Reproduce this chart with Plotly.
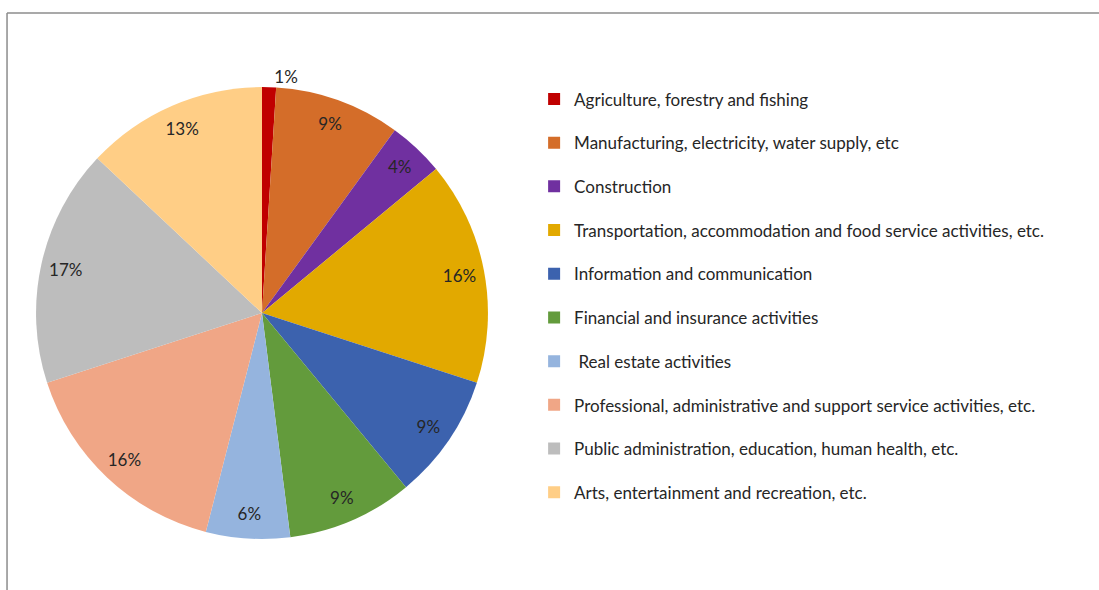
import plotly.graph_objects as go

# Share of enterprises by economic activity (%)
sectors = [
    "Agriculture, forestry and fishing",
    "Manufacturing, electricity, water supply, etc",
    "Construction",
    "Transportation, accommodation and food service activities, etc.",
    "Information and communication",
    "Financial and insurance activities",
    "\u00a0Real estate activities",
    "Professional, administrative and support service activities, etc.",
    "Public administration, education, human health, etc.",
    "Arts, entertainment and recreation, etc.",
]
shares = [1, 9, 4, 16, 9, 9, 6, 16, 17, 13]
colors = [
    "#C00000", "#D46D29", "#7030A0", "#E2A900", "#3C62AE",
    "#639B3C", "#95B4DE", "#F0A686", "#BDBDBD", "#FFCE86",
]

FONT = "Lato, Open Sans, sans-serif"
TEXT_COLOR = "#262626"

pie_domain = dict(x=[0.0328, 0.4440], y=[0.0864, 0.8525])

fig = go.Figure()

# Filled pie
fig.add_trace(go.Pie(
    labels=sectors, values=shares, sort=False, direction="clockwise",
    rotation=0, marker=dict(colors=colors, line=dict(width=0)),
    textinfo="none", domain=pie_domain, showlegend=False, hoverinfo="label+percent",
))

# Transparent ring carrying the percentage labels near the outer edge
fig.add_trace(go.Pie(
    labels=sectors, values=shares, sort=False, direction="clockwise",
    rotation=0, hole=0.78,
    marker=dict(colors=["rgba(0,0,0,0)"] * len(shares), line=dict(width=0)),
    texttemplate="%{value}%", textposition=["outside"] + ["inside"] * (len(shares) - 1),
    insidetextorientation="horizontal",
    textfont=dict(family=FONT, size=17, color=TEXT_COLOR),
    domain=pie_domain, showlegend=False, hoverinfo="skip",
))

# Legend entries, one group each so the spacing can be set
for i, (name, col) in enumerate(zip(sectors, colors)):
    fig.add_trace(go.Scatter(
        x=[None], y=[None], mode="markers", name=name,
        marker=dict(symbol="square", size=11, color=col),
        legendgroup=f"g{i}", showlegend=True,
    ))

fig.update_layout(
    width=1099, height=590,
    margin=dict(l=0, r=0, t=0, b=0),
    paper_bgcolor="white", plot_bgcolor="white",
    xaxis=dict(visible=False), yaxis=dict(visible=False),
    font=dict(family=FONT, color=TEXT_COLOR),
    legend=dict(
        x=0.486, y=0.862, xanchor="left", yanchor="top",
        font=dict(family=FONT, size=17, color=TEXT_COLOR),
        tracegroupgap=18.6, itemsizing="constant", bgcolor="rgba(0,0,0,0)",
    ),
    shapes=[
        dict(type="line", xref="paper", yref="paper",
             x0=0.0064, x1=1.0, y0=1 - 13 / 590, y1=1 - 13 / 590,
             line=dict(color="#8C8C8C", width=1.5)),
        dict(type="line", xref="paper", yref="paper",
             x0=0.0064, x1=0.0064, y0=0, y1=1 - 13 / 590,
             line=dict(color="#8C8C8C", width=1.5)),
    ],
)

fig.write_html("out.html")
